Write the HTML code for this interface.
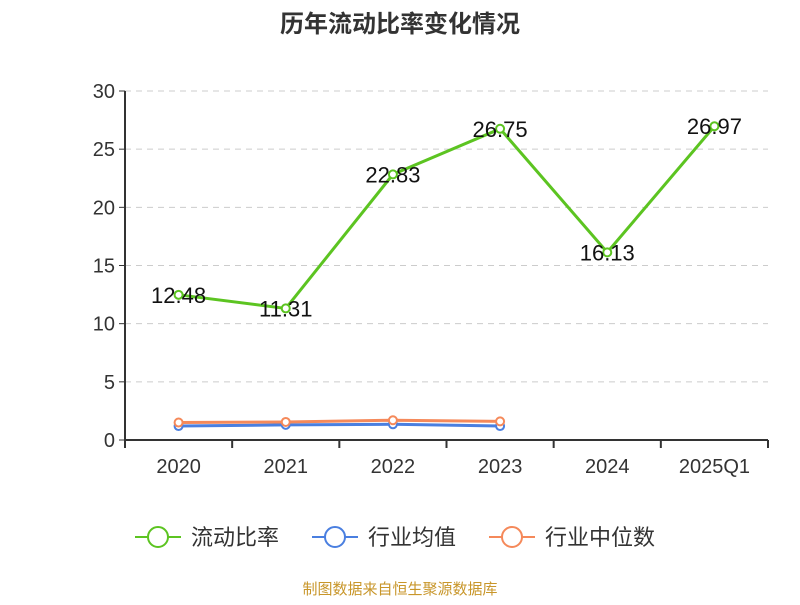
<!DOCTYPE html>
<html><head><meta charset="utf-8"><style>
body{margin:0;background:#fff;font-family:"Liberation Sans","Noto Sans CJK SC",sans-serif}
</style></head><body>
<svg width="800" height="600" id="c" xmlns="http://www.w3.org/2000/svg">
<text x="400" y="32" text-anchor="middle" font-size="24" font-weight="bold" fill="#333" font-family="Liberation Sans, Noto Sans CJK SC, sans-serif">历年流动比率变化情况</text>
<text x="400" y="594" text-anchor="middle" font-size="15" fill="#c8962a" font-family="Liberation Sans, Noto Sans CJK SC, sans-serif">制图数据来自恒生聚源数据库</text>
</svg>
<script>
const categories=["2020","2021","2022","2023","2024","2025Q1"];
const ratio=[12.48,11.31,22.83,26.75,16.13,26.97];
const industryAvg=[1.2,1.3,1.35,1.2];
const industryMedian=[1.5,1.55,1.7,1.6];
const yTicks=[0,5,10,15,20,25,30];
const svg=document.getElementById('c');const NS='http://www.w3.org/2000/svg';
const x0=125,x1=768,yb=440,yt=91;
const bw=(x1-x0)/categories.length;
const X=i=>x0+bw*(i+0.5);const Y=v=>yb-(v/30)*(yb-yt);
function mk(t,a,p){const e=document.createElementNS(NS,t);for(const k in a)e.setAttribute(k,a[k]);(p||svg).appendChild(e);return e;}
yTicks.forEach(v=>{
 if(v>0){const g=mk('line',{x1:x0,x2:x1,y1:Y(v),y2:Y(v),stroke:'#ccc','stroke-dasharray':'6,5'});
 
 }
 const tk=mk('line',{x1:x0-6,x2:x0,y1:Y(v),y2:Y(v),stroke:'#333'});
 
 
 const t=mk('text',{x:x0-10,y:Y(v)+7,'text-anchor':'end','font-size':20,fill:'#333'});t.textContent=v;
 
 
});
const ya=mk('line',{x1:x0,x2:x0,y1:yt,y2:yb,stroke:'#333','stroke-width':2});


const xa=mk('line',{x1:x0,x2:x1,y1:yb,y2:yb,stroke:'#333','stroke-width':2});


for(let i=0;i<=categories.length;i++){const l=mk('line',{x1:x0+bw*i,x2:x0+bw*i,y1:yb,y2:yb+8,stroke:'#333','stroke-width':2});
 
 }
categories.forEach((c,i)=>{const t=mk('text',{x:X(i),y:473,'text-anchor':'middle','font-size':20,fill:'#333'});t.textContent=c;
 
 });
function series(vals,color,name,labels){
 const p=mk('polyline',{points:vals.map((v,i)=>X(i)+','+Y(v)).join(' '),fill:'none',stroke:color,'stroke-width':3});
 
 
 vals.forEach((v,i)=>{const c=mk('circle',{cx:X(i),cy:Y(v),r:4,fill:'#fff',stroke:color,'stroke-width':2});
  
  
  if(labels){const t=mk('text',{x:X(i),y:Y(v)+8,'text-anchor':'middle','font-size':22,fill:'#111'});t.textContent=v.toFixed(2);
  
  }});
}
series(industryAvg,'#4a7fe0','industry-avg',false);
series(industryMedian,'#f5895a','industry-median',false);
series(ratio,'#5cc421','current-ratio',true);
const leg=[['流动比率','#5cc421',135],['行业均值','#4a7fe0',312],['行业中位数','#f5895a',489]];
leg.forEach(([n,c,x])=>{const g=mk('g',{});
 
 
 mk('line',{x1:x,x2:x+46,y1:537,y2:537,stroke:c,'stroke-width':2},g);
 mk('circle',{cx:x+23,cy:537,r:10,fill:'#fff',stroke:c,'stroke-width':2},g);
 const t=mk('text',{x:x+56,y:545,'font-size':22,fill:'#333'},g);t.textContent=n;});
</script>
</body></html>
